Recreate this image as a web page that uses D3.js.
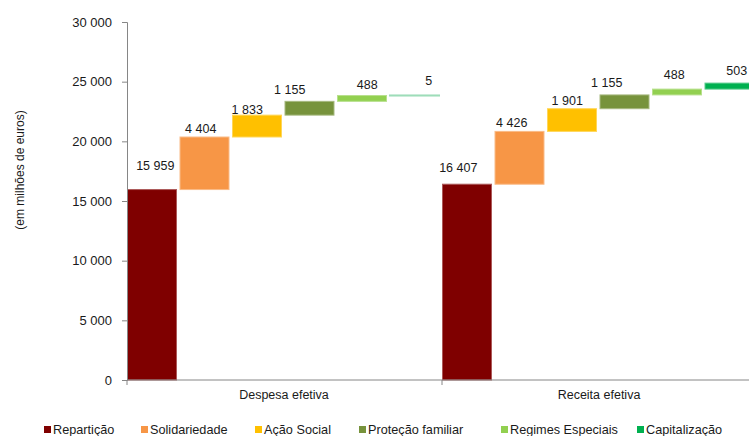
<!DOCTYPE html>
<html><head><meta charset="utf-8">
<script src="https://cdn.jsdelivr.net/npm/d3@7"></script>
<style>html,body{margin:0;padding:0;background:#fff;overflow:hidden}text{font-family:"Liberation Sans",Arial,sans-serif;}</style>
</head><body><svg id="c" width="749" height="436"></svg>
<script>
const categories = ["Despesa efetiva", "Receita efetiva"];
const seriesNames = ["Repartição", "Solidariedade", "Ação Social", "Proteção familiar", "Regimes Especiais", "Capitalização"];
const despesaValues = [15959, 4404, 1833, 1155, 488, 5];
const receitaValues = [16407, 4426, 1901, 1155, 488, 503];
const yTicks = [0, 5000, 10000, 15000, 20000, 25000, 30000];
const seriesColors = ["#7F0000", "#F79646", "#FFC000", "#77933C", "#92D050", "#00B050"];
// label nudges (style)
const labelNudgeX = [[2, -5, -11, -21, 4, 13], [-10, -9, -6, -19, -4, 6]];
const labelNudgeY = [[-20, -4, -1.5, -7, -7, -10], [-12.5, -4, -4, -8, -10, -8]];

const svg = d3.select("#c");
const fmt = v => d3.format(",")(v).replace(/,/g, " ");
const y = d3.scaleLinear().domain([0, 30000]).range([380, 22]);
const x0 = d3.scaleBand().domain(categories).range([127, 757]).padding(0);
const x1 = d3.scaleBand().domain(seriesNames).range([0, x0.bandwidth()]).padding(0);
const axisColor = "#868686";
const textColor = "#1a1a1a";

const valuesByCat = [despesaValues, receitaValues];
const barData = [];
categories.forEach((c, ci) => {
  let cum = 0;
  valuesByCat[ci].forEach((v, si) => {
    barData.push({cat: c, ci, si, s: seriesNames[si], start: cum, end: cum + v, v});
    cum += v;
  });
});

const g = svg.append("g");
g.selectAll("rect.bar").data(barData).enter().append("rect")
  .attr("class", "bar")
  .attr("x", d => x0(d.cat) + x1(d.s) + 0.5)
  .attr("width", x1.bandwidth() - 3.5)
  .attr("y", d => y(d.end))
  .attr("height", d => Math.max(0, y(d.start) - y(d.end)))
  .attr("fill", d => d.ci === 0 && d.si === 5 ? "#9EDDB9" : seriesColors[d.si])
  .attr("stroke", d => d.ci === 0 && d.si === 5 ? "#9EDDB9" : d3.interpolateRgb(seriesColors[d.si], "#fff")(0.35))
  .attr("stroke-width", d => d.ci === 0 && d.si === 5 ? 2 : 1);

g.selectAll("text.lbl").data(barData).enter().append("text")
  .attr("class", "lbl")
  .attr("x", d => x0(d.cat) + x1(d.s) + x1.bandwidth() / 2 + labelNudgeX[d.ci][d.si])
  .attr("y", d => y(d.end) + labelNudgeY[d.ci][d.si])
  .attr("text-anchor", "middle")
  .attr("font-size", 12.5)
  .attr("fill", textColor)
  .text(d => fmt(d.v));

// Y axis
const ya = svg.append("g").attr("transform", "translate(127,0)")
  .call(d3.axisLeft(y).tickValues(yTicks).tickSize(5).tickPadding(10).tickFormat(fmt));
ya.select(".domain").attr("stroke", axisColor);
ya.selectAll(".tick line").attr("stroke", axisColor);
ya.selectAll(".tick text").attr("font-size", 13).attr("fill", textColor).attr("font-family", "Liberation Sans, Arial, sans-serif");

// X axis
const xg = svg.append("g");
xg.append("line").attr("x1", 127).attr("x2", 757).attr("y1", 380).attr("y2", 380).attr("stroke", axisColor);
xg.selectAll("line.tk").data(categories.map(c => x0(c)).concat([x0.range()[1]])).enter().append("line")
  .attr("class", "tk").attr("x1", d => d).attr("x2", d => d).attr("y1", 380).attr("y2", 385).attr("stroke", axisColor);
xg.selectAll("text.cat").data(categories).enter().append("text")
  .attr("class", "cat")
  .attr("x", d => x0(d) + x0.bandwidth() / 2 - 0.5)
  .attr("y", 399)
  .attr("text-anchor", "middle")
  .attr("font-size", 12.5).attr("fill", textColor)
  .text(d => d);

// Y title
svg.append("text")
  .attr("transform", "translate(24,170) rotate(-90)")
  .attr("text-anchor", "middle")
  .attr("font-size", 12).attr("fill", textColor)
  .text("(em milhões de euros)");

// Legend
const legendX = [44, 141, 255, 359, 501, 637];
const lg = svg.append("g");
seriesNames.forEach((s, i) => {
  lg.append("rect").attr("x", legendX[i]).attr("y", 426).attr("width", 7).attr("height", 7).attr("fill", seriesColors[i]);
  lg.append("text").attr("x", legendX[i] + 9).attr("y", 433.5).attr("font-size", 12.7).attr("fill", textColor).text(s);
});
</script></body></html>
